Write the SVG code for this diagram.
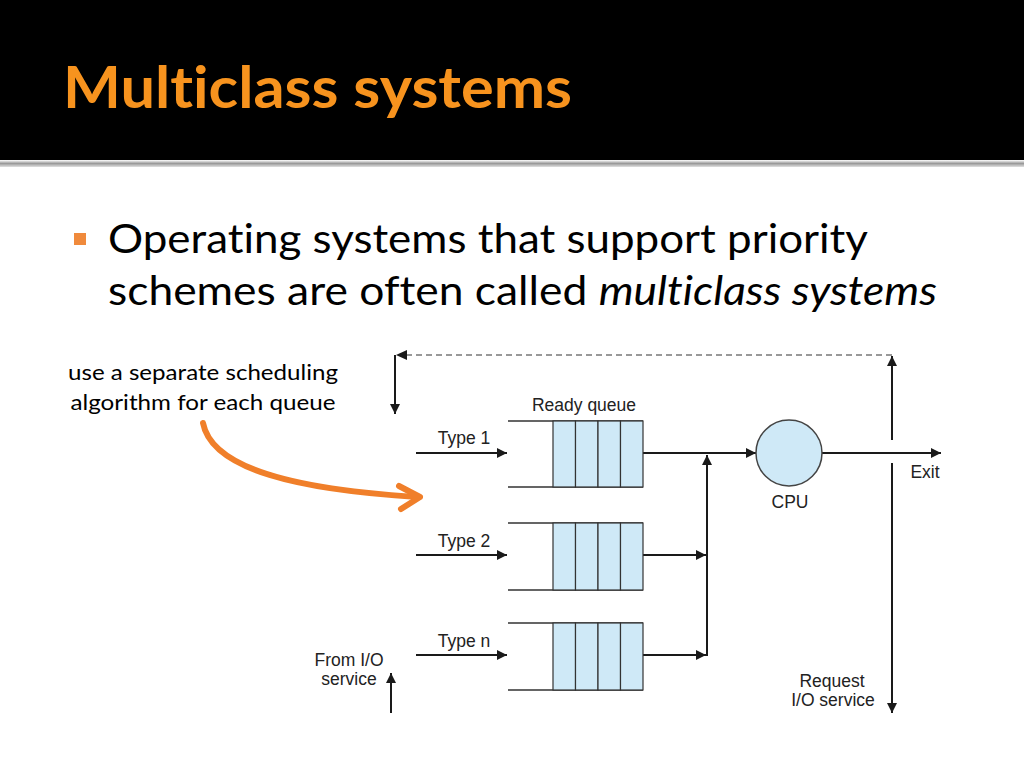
<svg xmlns="http://www.w3.org/2000/svg" width="1024" height="768" viewBox="0 0 1024 768">
<defs>
<marker id="ah" viewBox="0 0 10 10" refX="10" refY="5" markerWidth="10" markerHeight="10" markerUnits="userSpaceOnUse" orient="auto">
<path d="M0,0 L10,5 L0,10 z" fill="#1a1a1a"/>
</marker>
<linearGradient id="rule" x1="0" y1="0" x2="0" y2="1">
<stop offset="0" stop-color="#ffffff"/>
<stop offset="0.5" stop-color="#9a9a9a"/>
<stop offset="1" stop-color="#e0e0e0"/>
</linearGradient>
</defs>
<style>
.slide{font-family:Lato,"Open Sans","Liberation Sans",sans-serif;fill:#000;font-variant-ligatures:none;font-feature-settings:"liga" 0,"clig" 0,"dlig" 0}
.dg{font-family:"Liberation Sans",Arial,sans-serif;font-size:17.5px;fill:#222}
.ln{stroke:#1a1a1a;stroke-width:2;fill:none}
.qb{stroke:#333;stroke-width:1.5;fill:none}
.cell{fill:#cfe9f7;stroke:#333;stroke-width:1.2}
</style>
<rect width="1024" height="768" fill="#fff"/>
<rect width="1024" height="160" fill="#000"/>
<rect y="160" width="1024" height="7" fill="url(#rule)"/>
<text class="slide" x="63" y="108" font-size="57" font-weight="bold" style="fill:#f7931e" textLength="509" lengthAdjust="spacingAndGlyphs">Multiclass systems</text>
<rect x="74" y="233" width="12" height="12" fill="#f08a3c"/>
<text class="slide" x="108" y="253" font-size="40" textLength="760" lengthAdjust="spacingAndGlyphs">Operating systems that support priority</text>
<text class="slide" x="108" y="305" font-size="40" textLength="829" lengthAdjust="spacingAndGlyphs">schemes are often called <tspan font-style="italic">multiclass systems</tspan></text>
<text class="slide" x="203" y="380" font-size="21" text-anchor="middle" textLength="270" lengthAdjust="spacingAndGlyphs">use a separate scheduling</text>
<text class="slide" x="203" y="410" font-size="21" text-anchor="middle" textLength="265" lengthAdjust="spacingAndGlyphs">algorithm for each queue</text>
<g id="annotation-arrow" fill="none" stroke="#f07f2a" stroke-width="6" stroke-linecap="round" stroke-linejoin="round">
<path d="M203,423 C212,470 300,490 418,497"/>
<path d="M399,486 L420,497 L401,509"/>
</g>
<g id="connectors">
<path class="ln" d="M892,355 L402,355" stroke-dasharray="6,4" style="stroke:#777;stroke-width:1.5"/>
<path d="M407,350 L396,355 L407,360 z" fill="#1a1a1a"/>
<path class="ln" d="M395,355 L395,414" marker-end="url(#ah)"/>
<path class="ln" d="M892,440 L892,356" marker-end="url(#ah)"/>
<path class="ln" d="M892,463 L892,713" marker-end="url(#ah)"/>
<path class="ln" d="M416,453 L507,453" marker-end="url(#ah)"/>
<path class="ln" d="M416,555 L507,555" marker-end="url(#ah)"/>
<path class="ln" d="M416,655 L507,655" marker-end="url(#ah)"/>
<path class="ln" d="M643,453 L756,453" marker-end="url(#ah)"/>
<path class="ln" d="M707,656 L707,455" marker-end="url(#ah)"/>
<path class="ln" d="M643,555 L706,555" marker-end="url(#ah)"/>
<path class="ln" d="M643,655 L706,655" marker-end="url(#ah)"/>
<path class="ln" d="M822,453 L941,453" marker-end="url(#ah)"/>
<path class="ln" d="M391,713 L391,673" marker-end="url(#ah)"/>
</g>
<g id="queue1">
<path class="qb" d="M508,421 L643,421 M508,487 L643,487"/>
<rect class="cell" x="553" y="421" width="22.5" height="66"/>
<rect class="cell" x="575.5" y="421" width="22.5" height="66"/>
<rect class="cell" x="598" y="421" width="22.5" height="66"/>
<rect class="cell" x="620.5" y="421" width="22.5" height="66"/>
<text class="dg" x="584" y="411" text-anchor="middle">Ready queue</text>
<text class="dg" x="464" y="444" text-anchor="middle">Type 1</text>
</g>
<g id="queue2">
<path class="qb" d="M508,523 L643,523 M508,590 L643,590"/>
<rect class="cell" x="553" y="523" width="22.5" height="67"/>
<rect class="cell" x="575.5" y="523" width="22.5" height="67"/>
<rect class="cell" x="598" y="523" width="22.5" height="67"/>
<rect class="cell" x="620.5" y="523" width="22.5" height="67"/>
<text class="dg" x="464" y="547" text-anchor="middle">Type 2</text>
</g>
<g id="queuen">
<path class="qb" d="M508,623 L643,623 M508,690 L643,690"/>
<rect class="cell" x="553" y="623" width="22.5" height="67"/>
<rect class="cell" x="575.5" y="623" width="22.5" height="67"/>
<rect class="cell" x="598" y="623" width="22.5" height="67"/>
<rect class="cell" x="620.5" y="623" width="22.5" height="67"/>
<text class="dg" x="464" y="647" text-anchor="middle">Type n</text>
</g>
<g id="cpu">
<circle cx="789" cy="453" r="33" fill="#cfe9f7" stroke="#444" stroke-width="1.5"/>
<text class="dg" x="790" y="508" text-anchor="middle">CPU</text>
</g>
<g id="exit"><text class="dg" x="925" y="478" text-anchor="middle">Exit</text></g>
<g id="from-io">
<text class="dg" x="349" y="666" text-anchor="middle">From I/O</text>
<text class="dg" x="349" y="685" text-anchor="middle">service</text>
</g>
<g id="request-io">
<text class="dg" x="832" y="687" text-anchor="middle">Request</text>
<text class="dg" x="833" y="706" text-anchor="middle">I/O service</text>
</g>
</svg>
